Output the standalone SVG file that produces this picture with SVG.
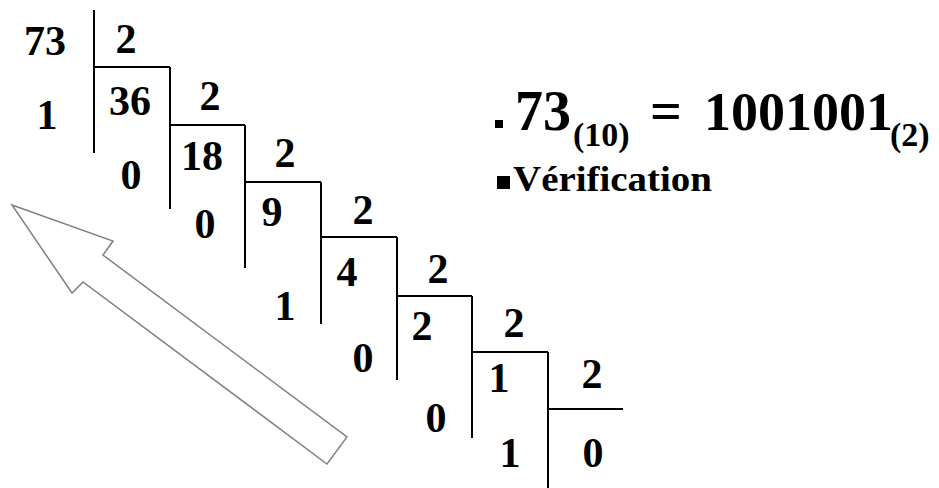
<svg xmlns="http://www.w3.org/2000/svg" width="939" height="488" viewBox="0 0 939 488">
<style>
.n{font-family:"Liberation Serif","DejaVu Serif",serif;font-size:42px;font-weight:bold;text-anchor:middle;fill:#000}
.l{stroke:#000;stroke-width:2;fill:none}
.r{font-family:"Liberation Serif","DejaVu Serif",serif;font-weight:bold;fill:#000}
.arrow{fill:#fff;stroke:#808080;stroke-width:1.5;stroke-linejoin:miter}
</style>
<rect width="939" height="488" fill="#fff"/>
<g id="connectors">
<path class="l" d="M94,10V153M94,67H170"/>
<path class="l" d="M170,67V209M170,125H245"/>
<path class="l" d="M245,125V268M245,182H321"/>
<path class="l" d="M321,182V324M321,237H397"/>
<path class="l" d="M397,237V380M397,296H472"/>
<path class="l" d="M472,296V438M472,352H548"/>
<path class="l" d="M548,352V488M548,409H623"/>
</g>
<g id="step1">
<text class="n" x="45" y="55">73</text>
<text class="n" x="126" y="53">2</text>
<text class="n" x="47" y="129">1</text>
</g>
<g id="step2">
<text class="n" x="130" y="115">36</text>
<text class="n" x="210" y="110">2</text>
<text class="n" x="131" y="189">0</text>
</g>
<g id="step3">
<text class="n" x="202" y="170">18</text>
<text class="n" x="285" y="167">2</text>
<text class="n" x="205" y="238">0</text>
</g>
<g id="step4">
<text class="n" x="272" y="226">9</text>
<text class="n" x="363" y="224">2</text>
<text class="n" x="285" y="320">1</text>
</g>
<g id="step5">
<text class="n" x="347" y="286">4</text>
<text class="n" x="438" y="283">2</text>
<text class="n" x="363" y="372">0</text>
</g>
<g id="step6">
<text class="n" x="422" y="340">2</text>
<text class="n" x="514" y="337">2</text>
<text class="n" x="436" y="432">0</text>
</g>
<g id="step7">
<text class="n" x="499" y="392">1</text>
<text class="n" x="592" y="388">2</text>
<text class="n" x="510" y="467">1</text>
<text class="n" x="593" y="467">0</text>
</g>
<g id="result">
<rect x="495" y="120" width="8" height="8" fill="#000"/>
<text class="r" x="515" y="130" font-size="56">73</text>
<text class="r" x="573" y="146" font-size="34">(10)</text>
<text class="r" x="650" y="130" font-size="56">=</text>
<text class="r" x="704" y="130" font-size="54">1001001</text>
<text class="r" x="890" y="146" font-size="34">(2)</text>
</g>
<g id="verification">
<rect x="497" y="176" width="13" height="13" fill="#000"/>
<text class="r" x="513" y="191" font-size="36" textLength="199" lengthAdjust="spacingAndGlyphs">Vérification</text>
</g>
<g id="arrow">
<polygon class="arrow" points="12,205 113,241 103,255 347,437 327,464 83,282 72,293"/>
</g>
</svg>
